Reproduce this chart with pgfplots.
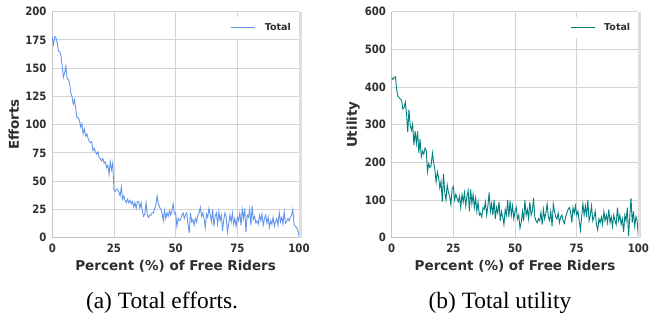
\documentclass[border=0pt]{standalone}
\usepackage{fontspec}
\setmainfont{DejaVu Sans}
\newfontfamily\tickfont{DejaVu Sans}[FakeStretch=0.88]
\newfontfamily\capfont{Liberation Serif}
\usepackage{pgfplots}
\usepackage{pgfplotstable}
\pgfplotsset{compat=1.18}
\definecolor{effblue}{HTML}{6495ED}
\definecolor{utilteal}{HTML}{008080}
\definecolor{txtgray}{HTML}{2E2E2E}
\definecolor{gridgray}{HTML}{D4D4D4}
\definecolor{spinegray}{HTML}{C4C4C4}
\definecolor{bargray}{HTML}{DEDEDE}

\pgfplotstableread{
x y
0 177
0.5 171
1 178
1.5 177
2 172
2.5 165
3 165
3.5 161
4 152
4.5 142
5 146
5.5 152
6 141
6.5 140
7 137
7.5 128
8 125
8.5 118
9 122
9.5 114
10 106
10.5 106
11 104
11.5 98
12 101
12.5 92
13 96
13.5 90
14 92
14.5 88
15 85
15.5 84
16 85
16.5 77
17 79
17.5 76
18 74
18.5 76
19 71
19.5 70
20 68
20.5 70
21 66
21.5 67
22 62
22.5 64
23 56
23.5 67
24 60
24.5 66
25 42
25.5 41
26 43
26.5 43
27 40
27.5 37
28 45
28.5 34
29 37
29.5 33
30 31
30.5 34
31 31
31.5 33
32 30
32.5 32
33 27
33.5 31
34 26
34.5 32
35 32
35.5 26
36 31
36.5 24
37 19
37.5 21
38 31
38.5 20
39 18
39.5 20
40 20
40.5 22
41 22
41.5 26
42 29
42.5 37
43 30
43.5 27
44 25
44.5 22
45 15
45.5 24
46 17
46.5 22
47 19
47.5 24
48 20
48.5 24
49 30
49.5 21
50 22
50.5 10
51 17
51.5 15
52 16
52.5 20
53 22
53.5 17
54 20
54.5 22
55 12
55.5 4
56 22
56.5 14
57 16
57.5 11
58 17
58.5 14
59 20
59.5 22
60 27
60.5 19
61 22
61.5 17
62 9
62.5 21
63 18
63.5 26
64 21
64.5 14
65 25
65.5 10
66 19
66.5 22
67 12
67.5 23
68 15
68.5 20
69 6
69.5 16
70 22
70.5 18
71 5
71.5 12
72 20
72.5 14
73 22
73.5 12
74 17
74.5 10
75 18
75.5 15
76 22
76.5 11
77 25
77.5 17
78 26
78.5 5
79 20
79.5 18
80 25
80.5 11
81 28
81.5 16
82 19
82.5 13
83 15
83.5 12
84 20
84.5 15
85 21
85.5 11
86 17
86.5 20
87 13
87.5 18
88 9
88.5 15
89 12
89.5 18
90 10
90.5 14
91 17
91.5 11
92 22
92.5 14
93 18
93.5 12
94 23
94.5 13
95 14
95.5 17
96 15
96.5 18
97 20
97.5 25
98 12
98.5 10
99 9
99.5 7
100 1
}\efforts

\pgfplotstableread{
x y
0 425
0.5 420
1 426
1.5 427
2 395
2.5 376
3 372
3.5 368
4 365
4.5 342
5 345
5.5 360
6 330
6.5 280
7 340
7.5 300
8 285
8.5 302
9 246
9.5 283
10 250
10.5 282
11 225
11.5 262
12 215
12.5 230
13 222
13.5 238
14 232
14.5 175
15 197
15.5 186
16 192
16.5 225
17 200
17.5 180
18 148
18.5 175
19 160
19.5 132
20 150
20.5 95
21 170
21.5 120
22 100
22.5 140
23 120
23.5 110
24 88
24.5 130
25 136
25.5 100
26 115
26.5 105
27 95
27.5 110
28 80
28.5 115
29 95
29.5 120
30 85
30.5 110
31 125
31.5 70
32 128
32.5 90
33 115
33.5 80
34 105
34.5 70
35 95
35.5 60
36 65
36.5 55
37 80
37.5 75
38 95
38.5 60
39 85
39.5 120
40 70
40.5 90
41 60
41.5 100
42 50
42.5 80
43 65
43.5 95
44 45
44.5 70
45 55
45.5 35
46 75
46.5 60
47 100
47.5 55
48 98
48.5 60
49 85
49.5 50
50 70
50.5 80
51 50
51.5 60
52 25
52.5 40
53 70
53.5 45
54 100
54.5 60
55 75
55.5 50
56 95
56.5 60
57 70
57.5 105
58 55
58.5 45
59 40
59.5 50
60 45
60.5 68
61 35
61.5 75
62 50
62.5 65
63 90
63.5 55
64 45
64.5 70
65 30
65.5 90
66 70
66.5 55
67 50
67.5 65
68 40
68.5 55
69 60
69.5 45
70 38
70.5 55
71 65
71.5 75
72 80
72.5 70
73 40
73.5 80
74 65
74.5 85
75 60
75.5 70
76 45
76.5 20
77 55
77.5 90
78 60
78.5 85
79 55
79.5 100
80 45
80.5 60
81 85
81.5 45
82 55
82.5 70
83 35
83.5 20
84 50
84.5 40
85 55
85.5 35
86 70
86.5 45
87 60
87.5 40
88 75
88.5 40
89 55
89.5 30
90 60
90.5 45
91 35
91.5 80
92 45
92.5 60
93 35
93.5 50
94 15
94.5 60
95 45
95.5 80
96 5
96.5 55
97 105
97.5 40
98 70
98.5 30
99 55
99.5 45
100 0
}\utility

\pgfplotsset{
  myaxis/.style={
    scale only axis,
    width=246.7pt, height=226pt,
    anchor=south west,
    xmin=0, xmax=100,
    xtick={0,25,50,75,100},
    axis x line*=bottom, axis y line*=left,
    axis line style={spinegray, line width=0.8pt},
    grid=major,
    major grid style={gridgray, line width=0.9pt},
    major tick length=0pt,
    /pgf/number format/assume math mode=true,
    tick label style={font=\tickfont\bfseries\fontsize{11.5}{12}\selectfont, text=txtgray, inner sep=0pt},
    xticklabel style={anchor=north, yshift=-6pt},
    yticklabel style={anchor=east, xshift=-5.6pt},
    every axis x label/.style={at={(axis description cs:0.5,-0.1443)}, anchor=base,
      font=\bfseries\fontsize{13.5}{14}\selectfont, text=txtgray, inner sep=0pt},
    every axis y label/.style={at={(axis description cs:-0.156,0.5)}, rotate=90, anchor=center,
      font=\bfseries\fontsize{13.5}{14}\selectfont, text=txtgray, inner sep=0pt},
    xlabel={Percent (\%) of Free Riders},
    legend style={at={(axis description cs:1,1)}, anchor=north east, xshift=-2pt, yshift=-5pt,
      draw=none, fill=white, inner xsep=4pt, inner ysep=4pt,
      font=\bfseries\fontsize{9.5}{10}\selectfont, text=txtgray,
      /tikz/every odd column/.append style={column sep=7pt}},
    legend image code/.code={\draw[##1, line width=0.9pt] (0pt,0pt) -- (24pt,0pt);},
    clip=false,
  }
}

\begin{document}
\begin{tikzpicture}
\path[use as bounding box] (0,0) rectangle (649pt,318pt);
\begin{axis}[myaxis, at={(52.3pt,80.3pt)}, ymin=0, ymax=200, ytick={0,25,...,200}, ylabel={Efforts}]
\addplot[effblue, line width=0.9pt] table[x=x,y=y] {\efforts};
\addlegendentry{Total}
\draw[bargray, line width=2.6pt] ([xshift=1.3pt]rel axis cs:1,0) -- ([xshift=1.3pt]rel axis cs:1,1);
\end{axis}
\begin{axis}[myaxis, at={(391.7pt,80.3pt)}, ymin=0, ymax=600, ytick={0,100,...,600}, ylabel={Utility}]
\addplot[utilteal, line width=0.9pt] table[x=x,y=y] {\utility};
\addlegendentry{Total}
\draw[bargray, line width=2.6pt] ([xshift=1.3pt]rel axis cs:1,0) -- ([xshift=1.3pt]rel axis cs:1,1);
\end{axis}
\node[font=\capfont\fontsize{23.4}{24}\selectfont, anchor=base] at (162pt,9.3pt) {(a) Total efforts.};
\node[font=\capfont\fontsize{23.4}{24}\selectfont, anchor=base] at (500pt,9.3pt) {(b) Total utility};
\end{tikzpicture}
\end{document}
